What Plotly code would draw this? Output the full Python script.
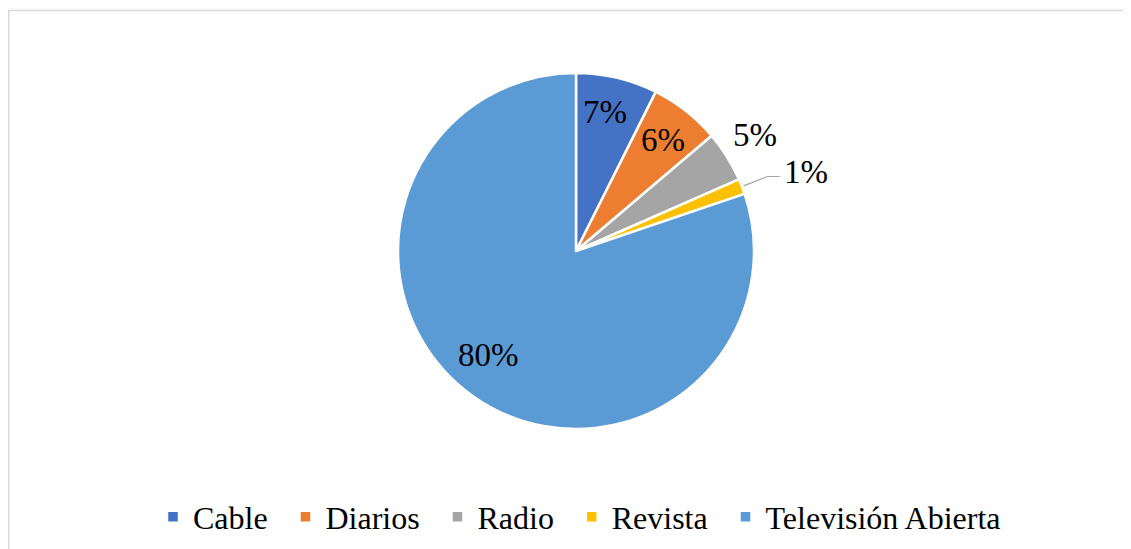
import math
import plotly.graph_objects as go

categories = ["Cable", "Diarios", "Radio", "Revista", "Televisión Abierta"]
values = [7.4, 6.4, 4.6, 1.4, 80.2]
colors = ["#4472C4", "#ED7D31", "#A5A5A5", "#FFC000", "#5B9BD5"]
# radial placement of each percentage label (fraction of radius) and angular nudge (deg)
label_radius = [0.80, 0.79, 1.20, None, 0.765]
label_nudge = [-1.5, 0, -1, 0, 4.6]

W, H = 1131, 549
cx, cy, r = 568, 243, 178  # pie centre and radius in figure pixels
FONT = "Liberation Serif, Times New Roman, serif"


def px(x):
    return x / W


def py(y):
    return 1 - y / H


fig = go.Figure(go.Pie(
    labels=[c + "\u2009\u2009" for c in categories],
    values=values,
    marker=dict(colors=colors, line=dict(color="white", width=2.5)),
    sort=False,
    direction="clockwise",
    rotation=0,
    textinfo="none",
    domain=dict(x=[px(cx - r), px(cx + r)], y=[py(cy + r), py(cy - r)]),
    hovertemplate="%{label}: %{percent:.0%}<extra></extra>",
))

total = sum(values)
annotations = []
shapes = [dict(type="rect", xref="paper", yref="paper", x0=px(0.75), x1=1.02,
               y0=-0.02, y1=py(2.5), line=dict(color="#d9d9d9", width=1.5),
               fillcolor="white", layer="below")]
cum = 0.0
for i, v in enumerate(values):
    mid = (cum + v / 2) / total * 2 * math.pi
    cum += v
    pct = f"{round(v / total * 100)}%"
    if label_radius[i] is not None:
        a = mid + math.radians(label_nudge[i])
        d = label_radius[i] * r
        annotations.append(dict(x=px(cx + d * math.sin(a)), y=py(cy - d * math.cos(a)),
                                xref="paper", yref="paper",
                                text=pct, showarrow=False, xanchor="center", yanchor="middle",
                                font=dict(family=FONT, size=33, color="black")))
    else:
        sx, sy = math.sin(mid), -math.cos(mid)
        x0, y0 = cx + 1.01 * r * sx, cy + 1.01 * r * sy
        x1, y1 = cx + 1.155 * r * sx, cy + 1.155 * r * sy
        x2 = x1 + 12
        shapes.append(dict(type="path", xref="paper", yref="paper",
                           path=f"M {px(x0)},{py(y0)} L {px(x1)},{py(y1)} L {px(x2)},{py(y1)}",
                           line=dict(color="#a5a5a5", width=1.2)))
        annotations.append(dict(x=px(x2 + 2), y=py(y1 - 5), xref="paper", yref="paper",
                                text=pct, showarrow=False, xanchor="left", yanchor="middle",
                                font=dict(family=FONT, size=33, color="black")))

fig.update_layout(
    width=W, height=H,
    margin=dict(l=0, r=0, t=0, b=0),
    paper_bgcolor="#fcfcfc",
    font=dict(family=FONT, size=32, color="black"),
    legend=dict(orientation="h", x=px(145), xanchor="left", y=py(509), yanchor="middle",
                font=dict(family=FONT, size=32, color="black"), itemclick=False,
                bgcolor="rgba(0,0,0,0)"),
    showlegend=True,
    shapes=shapes,
    annotations=annotations,
)

fig.write_html("out.html")
